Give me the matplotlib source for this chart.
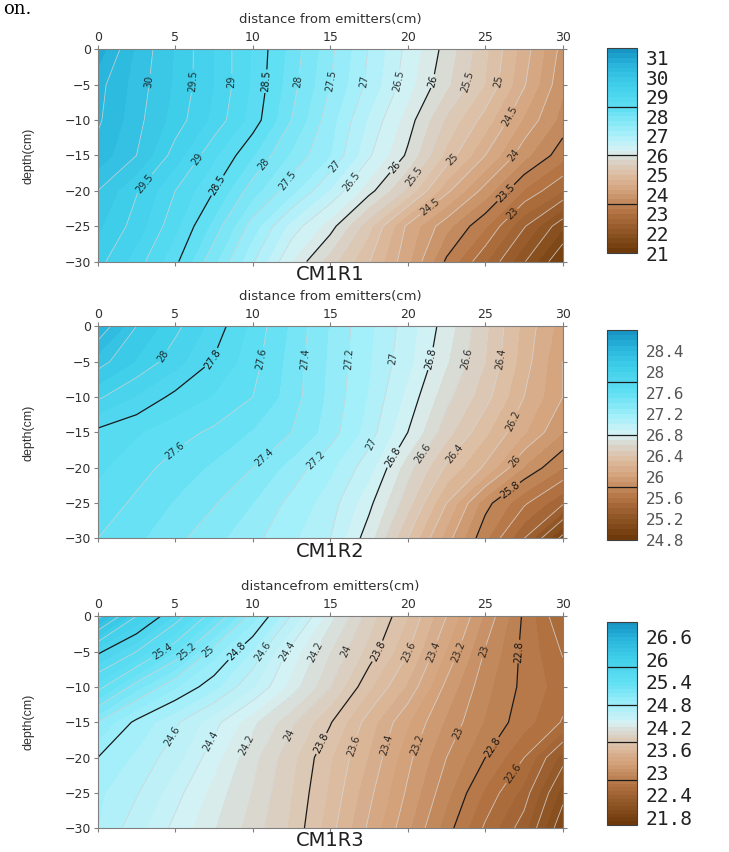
import numpy as np
import matplotlib.pyplot as plt
from matplotlib.colors import LinearSegmentedColormap

# grid of the measurements
x_cm = [0, 2.5, 5, 7.5, 10, 12.5, 15, 17.5, 20, 22.5, 25, 27.5, 30]
depth_cm = [0, -5, -10, -15, -20, -25, -30]

# soil temperature, one row per depth, one column per distance
temp_r1 = [
    [30.90, 30.20, 29.73, 29.24, 28.72, 28.16, 27.57, 26.98, 26.42, 25.90, 25.30, 24.63, 23.90],
    [30.60, 30.14, 29.71, 29.25, 28.71, 28.10, 27.50, 26.93, 26.35, 25.80, 25.24, 24.53, 23.80],
    [30.55, 30.09, 29.64, 29.17, 28.64, 28.00, 27.35, 26.71, 26.13, 25.45, 24.89, 24.21, 23.65],
    [30.40, 30.00, 29.38, 28.80, 28.27, 27.70, 27.25, 26.54, 25.95, 25.17, 24.50, 23.83, 23.35],
    [30.00, 29.52, 29.00, 28.50, 27.86, 27.34, 26.72, 26.10, 25.43, 24.57, 23.89, 23.22, 22.75],
    [29.80, 29.39, 28.82, 28.16, 27.38, 26.65, 26.12, 25.32, 24.44, 23.83, 23.28, 22.53, 21.80],
    [29.60, 29.13, 28.57, 27.81, 27.03, 26.25, 25.61, 25.02, 24.31, 23.45, 22.78, 22.03, 21.20],
]
temp_r2 = [
    [28.50, 28.20, 28.03, 27.86, 27.67, 27.48, 27.29, 27.12, 26.95, 26.75, 26.52, 26.27, 26.05],
    [28.25, 28.09, 27.94, 27.79, 27.64, 27.46, 27.28, 27.11, 26.93, 26.71, 26.50, 26.25, 26.00],
    [28.02, 27.89, 27.77, 27.69, 27.60, 27.45, 27.27, 27.09, 26.87, 26.63, 26.44, 26.20, 26.00],
    [27.77, 27.71, 27.64, 27.58, 27.49, 27.40, 27.25, 27.05, 26.80, 26.54, 26.32, 26.11, 25.90],
    [27.72, 27.64, 27.56, 27.48, 27.40, 27.26, 27.12, 26.94, 26.64, 26.38, 26.18, 25.89, 25.70],
    [27.66, 27.58, 27.49, 27.41, 27.30, 27.17, 27.05, 26.83, 26.54, 26.20, 25.84, 25.62, 25.42],
    [27.60, 27.52, 27.43, 27.33, 27.23, 27.12, 27.00, 26.74, 26.40, 26.05, 25.72, 25.40, 24.95],
]
temp_r3 = [
    [26.45, 26.00, 25.68, 25.32, 24.95, 24.59, 24.24, 23.95, 23.70, 23.40, 23.08, 22.78, 22.50],
    [25.83, 25.60, 25.30, 24.95, 24.69, 24.36, 24.10, 23.86, 23.61, 23.29, 22.99, 22.77, 22.59],
    [25.45, 25.14, 24.91, 24.73, 24.51, 24.26, 24.00, 23.72, 23.48, 23.17, 22.93, 22.77, 22.65],
    [25.00, 24.77, 24.62, 24.44, 24.23, 24.02, 23.81, 23.55, 23.31, 23.08, 22.89, 22.74, 22.59],
    [24.80, 24.68, 24.54, 24.34, 24.13, 23.93, 23.71, 23.49, 23.23, 23.00, 22.80, 22.60, 22.25],
    [24.72, 24.61, 24.44, 24.26, 24.09, 23.90, 23.68, 23.43, 23.18, 22.93, 22.68, 22.46, 22.05],
    [24.70, 24.54, 24.37, 24.21, 24.05, 23.88, 23.64, 23.38, 23.12, 22.85, 22.58, 22.34, 21.90],
]

# labelled contour levels and the depth where each label sits
lab1_levels = [30, 29.5, 29, 28.5, 28, 27.5, 27, 26.5, 26, 25.5, 25, 24.5,
               29.5, 29, 28.5, 28, 27.5, 27, 26.5, 26, 25.5, 25, 24.5, 24, 23.5, 23]
lab1_depths = [-4.5] * 11 + [-9.5,
               -19, -15.6, -19.2, -16.3, -18.5, -16.6, -18.7, -16.6, -18, -15.6, -22.5, -15, -20.3, -23.2]
lab2_levels = [28, 27.8, 27.6, 27.4, 27.2, 27, 26.8, 26.6, 26.4,
               27.6, 27.4, 27.2, 27, 26.8, 26.6, 26.4, 26.2, 26, 25.8]
lab2_depths = [-4.2] + [-4.6] * 8 + [-17.6, -18.3, -19, -16.6, -18.5, -18, -18, -13.4, -19, -23.2]
lab3_levels = [25.4, 25.2, 25, 24.8, 24.6, 24.4, 24.2, 24, 23.8, 23.6, 23.4, 23.2, 23, 22.8,
               24.6, 24.4, 24.2, 24, 23.8, 23.6, 23.4, 23.2, 23, 22.8, 22.6]
lab3_depths = [-5] * 14 + [-17, -17.7, -18.2, -16.8, -18, -18.4, -18.2, -18.2, -16.5, -18.4, -22.2]

# surfer-like brown -> white -> cyan scale
cmap = LinearSegmentedColormap.from_list('soil', [
    (0.00, '#6a3608'), (0.10, '#8e5424'), (0.20, '#b47444'), (0.30, '#d2a078'),
    (0.38, '#dcbca0'), (0.45, '#dad4ca'), (0.50, '#d8f2f4'), (0.58, '#a8f0fa'),
    (0.70, '#62e0f4'), (0.82, '#40cfea'), (0.92, '#28b4dc'), (1.00, '#1590c0')])

fig = plt.figure(figsize=(7.29, 8.52), dpi=100)
fig.text(0.004, 1 - 14 / 852, 'on.', family='DejaVu Serif', fontsize=13, va='baseline')


def label_spots(temp, levels, depths):
    T = np.array(temp)
    x = np.array(x_cm, dtype=float)
    d = np.array(depth_cm, dtype=float)
    spots = []
    for lev, dep in zip(levels, depths):
        row = np.array([np.interp(dep, d[::-1], T[::-1, j]) for j in range(len(x))])
        spots.append((lev, np.interp(lev, row[::-1], x[::-1]), dep))
    return spots


def panel(bottom, temp, fill_levels, line_levels, majors, cb_ticks, lab_levels, lab_depths,
          xlabel, title, cb_box, cb_size, cb_color):
    ax = fig.add_axes([0.134, bottom, 0.638, 0.249])
    X, Y = np.meshgrid(x_cm, depth_cm)
    cf = ax.contourf(X, Y, temp, levels=fill_levels, cmap=cmap)
    minor = [l for l in line_levels if not np.isclose(majors, l).any()]
    cs1 = ax.contour(X, Y, temp, levels=minor, colors='#d4d4d4', linewidths=0.6, alpha=0.85)
    cs2 = ax.contour(X, Y, temp, levels=majors, colors='#1a1a1a', linewidths=0.9)

    spots = label_spots(temp, lab_levels, lab_depths)
    for cs in (cs1, cs2):
        pts = [(px, py) for lev, px, py in spots if np.isclose(cs.levels, lev).any()]
        if pts:
            ax.clabel(cs, manual=pts, inline=True, inline_spacing=1,
                      fontsize=7, fmt='%g', colors='#111111')

    ax.set_xlim(0, 30)
    ax.set_ylim(-30, 0)
    ax.set_xticks(range(0, 31, 5))
    ax.set_yticks(range(-30, 1, 5))
    ax.xaxis.tick_top()
    ax.tick_params(axis='x', top=True, bottom=True, labeltop=True, labelbottom=False,
                   direction='out', length=3, pad=1, labelsize=9, colors='#808080',
                   labelcolor='#303030')
    ax.tick_params(axis='y', left=True, right=True, direction='out', length=3, pad=2,
                   labelsize=9, colors='#808080', labelcolor='#303030')
    for s in ax.spines.values():
        s.set_color('#808080')
        s.set_linewidth(0.8)
    ax.set_xlabel(xlabel, fontsize=9.5, color='#303030')
    ax.xaxis.set_label_position('top')
    ax.xaxis.set_label_coords(0.5, 1.125)
    ax.set_ylabel('depth(cm)', fontsize=9, family='Liberation Sans', color='#303030')
    ax.yaxis.set_label_coords(-0.135, 0.5)
    ax.text(0.5, -0.015, title, transform=ax.transAxes, ha='center', va='top',
            fontsize=14, color='#202020')

    cax = fig.add_axes(cb_box)
    cb = fig.colorbar(cf, cax=cax, ticks=cb_ticks)
    cb.add_lines(cs2)
    cb.ax.set_yticklabels([f'{t:g}' for t in cb_ticks])
    cb.ax.tick_params(length=0, pad=6, labelsize=cb_size, labelcolor=cb_color)
    for t in cb.ax.get_yticklabels():
        t.set_family('DejaVu Sans Mono')
    cb.outline.set_edgecolor('#404040')
    cb.outline.set_linewidth(0.8)


panel(0.693, temp_r1,
      np.round(np.arange(21, 31.51, 0.25), 2), np.round(np.arange(21, 31.01, 0.5), 2),
      [23.5, 26, 28.5], list(range(21, 32)),
      lab1_levels, lab1_depths, 'distance from emitters(cm)', 'CM1R1',
      [0.833, 0.703, 0.041, 0.2406], 14, '#222222')
panel(0.368, temp_r2,
      np.round(np.arange(24.8, 28.81, 0.1), 2), np.round(np.arange(24.8, 28.61, 0.2), 2),
      [25.8, 26.8, 27.8], list(np.round(np.arange(24.8, 28.41, 0.4), 1)),
      lab2_levels, lab2_depths, 'distance from emitters(cm)', 'CM1R2',
      [0.833, 0.3662, 0.041, 0.2465], 11.5, '#555555')
panel(0.0278, temp_r3,
      np.round(np.arange(21.6, 27.01, 0.1), 2), np.round(np.arange(21.8, 26.61, 0.2), 2),
      [22.8, 23.8, 24.8, 25.8], list(np.round(np.arange(21.8, 26.61, 0.6), 1)),
      lab3_levels, lab3_depths, 'distancefrom emitters(cm)', 'CM1R3',
      [0.833, 0.0317, 0.041, 0.2386], 14, '#222222')

plt.savefig('out.png', dpi=100)
